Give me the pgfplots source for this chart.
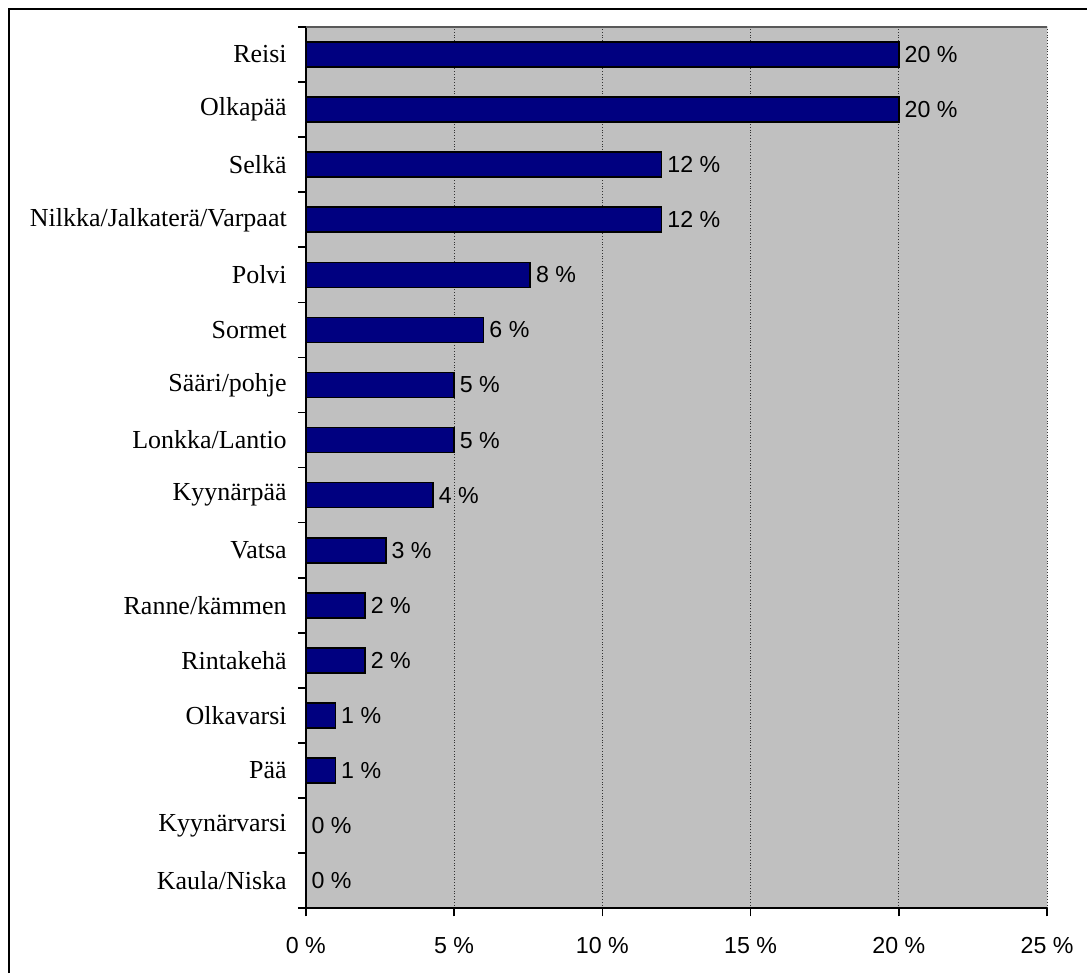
\documentclass[border=0pt]{standalone}
\usepackage{fontspec}
\setmainfont{Liberation Serif}
\newfontfamily\arial{Liberation Sans}
\usepackage{pgfplots}
\pgfplotsset{compat=1.18}
\definecolor{plotbg}{HTML}{C0C0C0}
\definecolor{navybar}{HTML}{000080}
\begin{document}
\begin{tikzpicture}
\begin{axis}[
  scale only axis, width=371pt, height=441pt,
  xbar, bar width=12.5pt,
  xmin=0, xmax=25, ymin=-0.5, ymax=15.5,
  axis x line*=bottom, axis y line*=left,
  axis line style={black, line width=0.8pt, -},
  axis background/.style={fill=plotbg},
  /pgf/number format/assume math mode=true,
  xtick={0,5,10,15,20,25},
  xticklabels={0 \%,5 \%,10 \%,15 \%,20 \%,25 \%},
  xticklabel style={font=\arial\fontsize{11.6}{13}\selectfont, yshift=-7pt},
  tick align=outside, major tick length=4pt,
  tick style={black, line width=0.8pt},
  xmajorgrids, major grid style={densely dotted, gray!40!black, line width=0.5pt},
  ytick={-0.5,0.5,...,15.5}, yticklabel={\phantom{0}},
  extra y ticks={0,1,...,15},
  extra y tick labels={Kaula/Niska,Kyynärvarsi,Pää,Olkavarsi,Rintakehä,Ranne/kämmen,Vatsa,Kyynärpää,Lonkka/Lantio,Sääri/pohje,Sormet,Polvi,Nilkka/Jalkaterä/Varpaat,Selkä,Olkapää,Reisi},
  extra y tick style={major tick length=0pt, yticklabel style={font=\fontsize{13}{15}\selectfont, xshift=-6pt}},
  nodes near coords={\pgfmathprintnumber[fixed,precision=0]{\pgfplotspointmeta}~\%},
  nodes near coords align=horizontal,
  every node near coord/.append style={font=\arial\fontsize{11.6}{13}\selectfont, anchor=west, inner sep=2.5pt, black},
]
\addplot[fill=navybar, draw=black, line width=0.8pt] coordinates {
  (0,0) (0,1) (1.0,2) (1.0,3) (2.0,4) (2.0,5) (2.7,6) (4.29,7)
  (5.0,8) (5.0,9) (6.0,10) (7.57,11) (12.0,12) (12.0,13) (20.0,14) (20.0,15)
};
\draw[gray!70!black, line width=0.6pt] (rel axis cs:0,1) -- (rel axis cs:1,1) -- (rel axis cs:1,0);
\end{axis}
\path ([xshift=-153pt,yshift=-32.5pt]current axis.south west) rectangle ([xshift=20pt,yshift=13.5pt]current axis.north east);
\draw[black, line width=0.9pt] ([xshift=-148.5pt,yshift=-32.5pt]current axis.south west) -- ([xshift=-148.5pt,yshift=9pt]current axis.north west) -- ([xshift=20pt,yshift=9pt]current axis.north east);
\end{tikzpicture}
\end{document}
